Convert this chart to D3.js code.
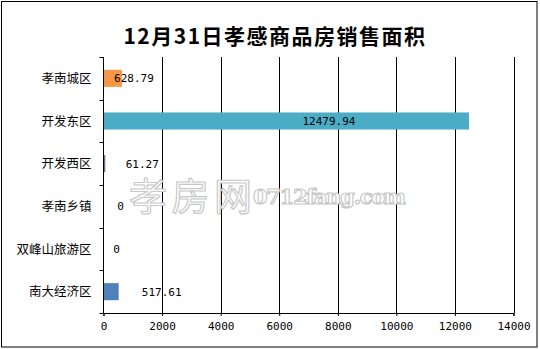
<!DOCTYPE html>
<html><head><meta charset="utf-8">
<script src="https://cdn.jsdelivr.net/npm/d3@7"></script>
<style>body{margin:0;background:#fff}svg{display:block}</style>
</head><body>
<svg id="c" width="540" height="349"></svg>
<script>
const categories = ["孝南城区","开发东区","开发西区","孝南乡镇","双峰山旅游区","南大经济区"];
const values = [628.79, 12479.94, 61.27, 0, 0, 517.61];
const barColors = ["#F79646","#4BACC6","#8064A2","#9BBB59","#C0504D","#4F81BD"];
const xTicks = [0,2000,4000,6000,8000,10000,12000,14000];
const labelDx = [12, -140, 37, 17, 13, 43];
const title = "12月31日孝感商品房销售面积";

const svg = d3.select("#c");
svg.append("rect").attr("x",1.5).attr("y",1.5).attr("width",535.5).attr("height",345.5)
  .attr("fill","#fff").attr("stroke","#000").attr("stroke-width",1);

svg.append("text").attr("x",275).attr("y",44).attr("text-anchor","middle")
  .attr("font-family","'Noto Sans CJK SC'").attr("font-weight","bold").attr("font-size",21)
  .attr("letter-spacing",1.5).text(title);

const x = d3.scaleLinear().domain([0,14000]).range([103.5,513.5]);
const y = d3.scaleBand().domain(categories).range([57,313]).paddingInner(0.6).paddingOuter(0.3);
const yb = d3.scaleBand().domain(categories).range([57,313]);

// grid
svg.append("g").selectAll("line").data(xTicks.slice(1)).join("line")
  .attr("x1",d=>Math.round(x(d))+0.5).attr("x2",d=>Math.round(x(d))+0.5)
  .attr("y1",57).attr("y2",313).attr("stroke","#000");

// watermark
const wm = svg.append("g").attr("fill","#fff").attr("stroke","#c8c8c8").attr("stroke-width",1.2);
wm.append("text").attr("x",129).attr("y",210).attr("font-family","'Noto Sans CJK SC'")
  .attr("font-size",38).attr("textLength",123).text("孝房网");
wm.append("text").attr("x",253).attr("y",204).attr("font-family","'DejaVu Serif'")
  .attr("font-weight","bold").attr("font-size",21).attr("letter-spacing",-1.3).text("0712fang.com");

// bars
svg.append("g").selectAll("rect").data(values).join("rect")
  .attr("x",x(0)).attr("y",(d,i)=>y(categories[i]))
  .attr("width",d=>x(d)-x(0)).attr("height",y.bandwidth())
  .attr("fill",(d,i)=>barColors[i]);

// x axis
const xa = svg.append("g").attr("transform","translate(0,313)")
  .call(d3.axisBottom(x).tickValues(xTicks).tickSize(3).tickPadding(6).tickFormat(d3.format("d")));
xa.select(".domain").attr("stroke","#000");
xa.selectAll("line").attr("stroke","#000");
xa.selectAll("text").attr("font-family","'DejaVu Sans Mono'").attr("font-size",11).attr("fill","#000");

// y axis
const ya = svg.append("g").attr("transform","translate(103.5,0)");
ya.append("line").attr("x1",0).attr("x2",0).attr("y1",57).attr("y2",313).attr("stroke","#000");
ya.selectAll(".t").data(categories.concat(["_end"])).join("line").attr("class","t")
  .attr("x1",-4).attr("x2",0)
  .attr("y1",(d,i)=>Math.round(i<categories.length?yb(d):313)+0.5)
  .attr("y2",(d,i)=>Math.round(i<categories.length?yb(d):313)+0.5).attr("stroke","#000");
ya.selectAll("text").data(categories).join("text")
  .attr("x",-12).attr("y",d=>yb(d)+yb.bandwidth()/2).attr("dy","0.36em")
  .attr("text-anchor","end").attr("font-family","'Noto Sans CJK SC'").attr("font-size",12.5)
  .text(d=>d);

// value labels
svg.append("g").selectAll("text").data(values).join("text")
  .attr("x",(d,i)=>x(d)+labelDx[i]).attr("y",(d,i)=>yb(categories[i])+yb.bandwidth()/2).attr("dy","0.36em")
  .attr("text-anchor","middle").attr("font-family","'DejaVu Sans Mono'").attr("font-size",11)
  .text(d=>d===0?"0":d.toFixed(2));
</script>
</body></html>
